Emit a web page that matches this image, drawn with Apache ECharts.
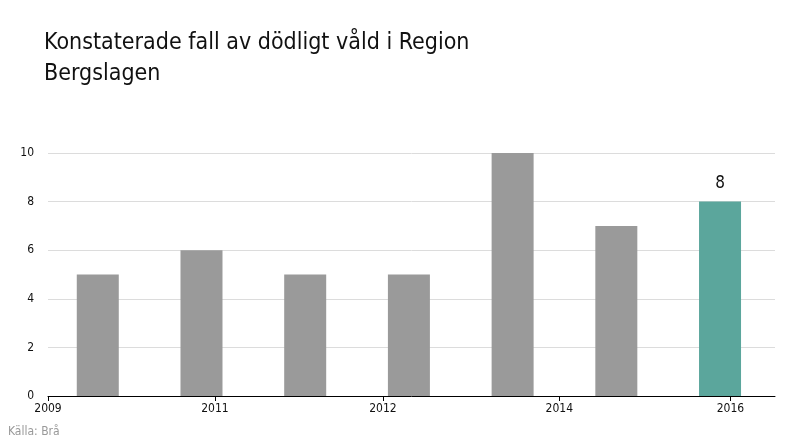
<!DOCTYPE html>
<html>
<head>
<meta charset="utf-8">
<script src="https://cdn.jsdelivr.net/npm/echarts@6/dist/echarts.min.js"></script>
<style>html,body{margin:0;padding:0;background:#fff}#c{width:800px;height:440px}</style>
</head>
<body>
<div id="c"></div>
<script>
var years = [2010, 2011, 2012, 2013, 2014, 2015, 2016];
var values = [5, 6, 5, 5, 10, 7, 8];
var tickValues = [2009.52, 2011.13, 2012.75, 2014.45, 2016.1];
var tickLabels = ['2009', '2011', '2012', '2014', '2016'];
var highlightYear = 2016;

var FONT = '"Ubuntu Condensed","Liberation Sans Narrow","DejaVu Sans Condensed","Roboto",sans-serif';
var chart = echarts.init(document.getElementById('c'));
var data = years.map(function (y, i) {
  var hi = y === highlightYear;
  return {
    value: [y, values[i]],
    itemStyle: { color: hi ? '#5ba69c' : '#9a9a9a' },
    label: { show: hi }
  };
});
chart.setOption({
  animation: false,
  textStyle: { fontFamily: FONT },
  title: [{
    text: 'Konstaterade fall av dödligt våld i Region\nBergslagen',
    left: 44, top: 28, padding: 0,
    textStyle: { fontFamily: FONT, fontSize: 23, fontWeight: 'normal', color: '#111', lineHeight: 31 }
  }, {
    text: 'Källa: Brå',
    left: 8, bottom: 2, padding: 0,
    textStyle: { fontFamily: FONT, fontSize: 12, fontWeight: 'normal', color: '#999' }
  }],
  grid: { left: 48, right: 25, top: 153, bottom: 44 },
  xAxis: {
    type: 'value',
    min: 2009.52, max: 2016.53,
    axisLine: { show: true, lineStyle: { color: '#000', width: 1 } },
    axisTick: { show: true, length: 5, lineStyle: { color: '#000' }, customValues: tickValues },
    axisLabel: {
      customValues: tickValues,
      color: '#111', fontSize: 12, fontFamily: FONT, margin: 7,
      formatter: function (v) {
        var idx = -1;
        tickValues.forEach(function (t, i) { if (Math.abs(t - v) < 1e-6) idx = i; });
        return idx >= 0 ? tickLabels[idx] : '';
      }
    },
    splitLine: { show: false }
  },
  yAxis: {
    type: 'value',
    min: 0, max: 10, interval: 2,
    axisLine: { show: false },
    axisTick: { show: false },
    axisLabel: { color: '#111', fontSize: 12, fontFamily: FONT, margin: 14 },
    splitLine: { lineStyle: { color: '#dcdcdc', width: 1 } }
  },
  series: [{
    type: 'bar',
    barWidth: 42,
    data: data,
    label: {
      position: 'top', distance: 10,
      fontSize: 17, color: '#111', fontFamily: FONT,
      formatter: function (p) { return p.value[1]; }
    }
  }]
});
</script>
</body>
</html>
